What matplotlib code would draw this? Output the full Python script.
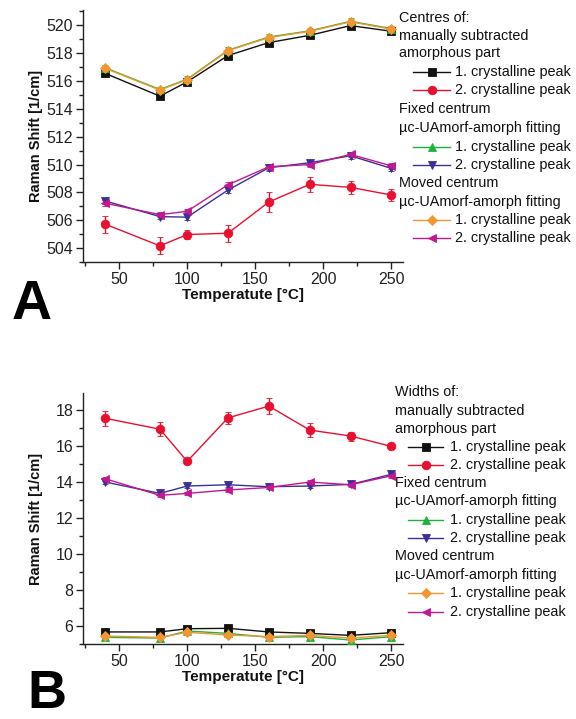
import matplotlib
matplotlib.use("Agg")
import matplotlib.pyplot as plt
from matplotlib.lines import Line2D
from matplotlib.ticker import MultipleLocator

plt.rcParams['font.family'] = ['Liberation Sans', 'DejaVu Sans']

# Temperatures [°C]
temperature = [40, 80, 100, 130, 160, 190, 220, 250]

# Peak centres [1/cm]
centre_manual_1 = [516.54, 514.91, 515.94, 517.83, 518.76, 519.28, 519.98, 519.57]
centre_manual_2 = [505.71, 504.16, 504.97, 505.07, 507.31, 508.58, 508.36, 507.81]
centre_manual_2_err = [0.62, 0.62, 0.35, 0.60, 0.73, 0.55, 0.45, 0.40]
centre_fixed_1 = [516.94, 515.39, 516.13, 518.21, 519.16, 519.60, 520.29, 519.76]
centre_fixed_2 = [507.38, 506.26, 506.22, 508.17, 509.77, 510.13, 510.63, 509.72]
centre_moved_1 = [516.90, 515.35, 516.10, 518.18, 519.12, 519.57, 520.25, 519.72]
centre_moved_2 = [507.22, 506.40, 506.64, 508.55, 509.84, 510.00, 510.73, 509.90]
centre_small_err = [0.2, 0.2, 0.2, 0.2, 0.2, 0.2, 0.2, 0.2]

# Peak widths [1/cm]
width_manual_1 = [5.67, 5.67, 5.85, 5.87, 5.67, 5.59, 5.48, 5.63]
width_manual_2 = [17.54, 16.94, 15.15, 17.57, 18.22, 16.89, 16.56, 15.98]
width_manual_2_err = [0.42, 0.40, 0.12, 0.35, 0.45, 0.37, 0.25, 0.15]
width_fixed_1 = [5.37, 5.33, 5.72, 5.59, 5.37, 5.41, 5.22, 5.41]
width_fixed_2 = [14.00, 13.37, 13.78, 13.85, 13.74, 13.78, 13.87, 14.43]
width_moved_1 = [5.44, 5.37, 5.65, 5.50, 5.41, 5.48, 5.33, 5.48]
width_moved_2 = [14.18, 13.26, 13.37, 13.56, 13.70, 14.00, 13.85, 14.35]
width_small_err = [0.1, 0.1, 0.1, 0.1, 0.1, 0.1, 0.1, 0.1]

entry_label = "crystalline peak"
group_titles = ["manually subtracted\namorphous part",
                "Fixed centrum\n\u00b5c-UAmorf-amorph fitting",
                "Moved centrum\n\u00b5c-UAmorf-amorph fitting"]

BLACK = "#111111"
RED = "#e8102e"
GREEN = "#1db33a"
BLUE = "#3a2f99"
ORANGE = "#f19630"
MAGENTA = "#c4178f"

styles = [
    (BLACK, "s", 5.2),
    (RED, "o", 6.2),
    (GREEN, "^", 6.2),
    (BLUE, "v", 6.2),
    (ORANGE, "D", 4.8),
    (MAGENTA, "<", 6.2),
]

fig = plt.figure(figsize=(5.76, 7.19), dpi=100)
W, H = 576, 719


def fx(px):
    return px / W


def fy(py):
    return 1 - py / H


ax_top = fig.add_axes([fx(83), fy(262), fx(403) - fx(83), fy(10) - fy(262)])
ax_bot = fig.add_axes([fx(83), fy(644), fx(403) - fx(83), fy(393) - fy(644)])


def draw_series(ax, series):
    for (values, err), (color, marker, ms) in zip(series, styles):
        ax.errorbar(temperature, values, yerr=err, color=color, marker=marker,
                    markersize=ms, linewidth=1.0, elinewidth=1.0, capsize=2.5,
                    capthick=1.0, markeredgewidth=0.6,
                    markeredgecolor=color, zorder=3)


draw_series(ax_top, [
    (centre_manual_1, centre_small_err),
    (centre_manual_2, centre_manual_2_err),
    (centre_fixed_1, centre_small_err),
    (centre_fixed_2, centre_small_err),
    (centre_moved_1, centre_small_err),
    (centre_moved_2, centre_small_err),
])
draw_series(ax_bot, [
    (width_manual_1, width_small_err),
    (width_manual_2, width_manual_2_err),
    (width_fixed_1, width_small_err),
    (width_fixed_2, width_small_err),
    (width_moved_1, width_small_err),
    (width_moved_2, width_small_err),
])

ax_top.set_ylim(503.0, 521.1)
ax_bot.set_ylim(5.0, 18.95)

for ax in (ax_top, ax_bot):
    ax.set_xlim(23.5, 258.5)
    ax.spines['top'].set_visible(False)
    ax.spines['right'].set_visible(False)
    for s in ('left', 'bottom'):
        ax.spines[s].set_linewidth(1.0)
        ax.spines[s].set_color("#222222")
    ax.xaxis.set_major_locator(MultipleLocator(50))
    ax.xaxis.set_minor_locator(MultipleLocator(25))
    ax.yaxis.set_major_locator(MultipleLocator(2))
    ax.yaxis.set_minor_locator(MultipleLocator(1))
    ax.tick_params(which='major', direction='out', length=5, width=1.0,
                   labelsize=11.5, colors="#222222", pad=2)
    ax.tick_params(which='minor', direction='out', length=3, width=1.0,
                   colors="#222222")
    ax.set_xlabel("Temperatute [\u00b0C]", fontsize=11, fontweight='bold',
                  color="#111111")
    ax.set_ylabel("Raman Shift [1/cm]", fontsize=10.5, fontweight='bold',
                  color="#111111")
    ax.xaxis.set_label_coords(0.5, -0.105)
    ax.yaxis.set_label_coords(-0.125, 0.5)


def draw_legend(header, title_x, handle_x0, handle_x1, text_x, rows):
    # rows: y pixel centres of the 13 legend lines
    fs = 10.4
    r = 0
    fig.text(fx(title_x), fy(rows[r]), header, fontsize=fs, va='center',
             ha='left', color="#111111")
    r += 1
    for g in range(3):
        for line in group_titles[g].split("\n"):
            fig.text(fx(title_x), fy(rows[r]), line, fontsize=fs, va='center',
                     ha='left', color="#111111")
            r += 1
        for k in range(2):
            color, marker, ms = styles[2 * g + k]
            y = fy(rows[r])
            fig.add_artist(Line2D([fx(handle_x0), fx(handle_x1)], [y, y],
                                  color=color, linewidth=1.0,
                                  transform=fig.transFigure))
            fig.add_artist(Line2D([fx((handle_x0 + handle_x1) / 2)], [y],
                                  color=color, marker=marker, markersize=ms,
                                  markeredgewidth=0.6, markeredgecolor=color,
                                  transform=fig.transFigure))
            fig.text(fx(text_x), y, f"{k + 1}. {entry_label}", fontsize=fs,
                     va='center', ha='left', color="#111111")
            r += 1


draw_legend("Centres of:", 399, 413, 450, 455,
            [18.3, 35.7, 53.3, 71.7, 90, 109, 127.7, 146.7, 165, 183,
             201.7, 220, 238.3])
draw_legend("Widths of:", 395, 408, 443, 450,
            [392.3, 410.7, 429, 446.7, 465, 482.7, 501, 520, 538.3, 556,
             575, 593.3, 611.7])

fig.text(fx(12), fy(305), "A", fontsize=40, fontweight='bold', va='center',
         ha='left', color="black")
fig.text(fx(27), fy(694), "B", fontsize=39, fontweight='bold', va='center',
         ha='left', color="black")

fig.savefig("out.png", dpi=100)
